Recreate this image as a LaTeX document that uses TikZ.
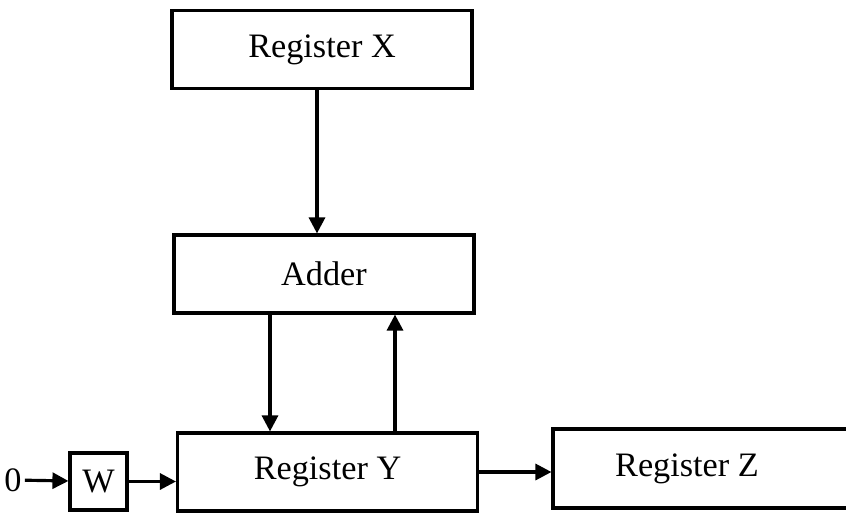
\documentclass[tikz,border=0pt]{standalone}
\usepackage{fontspec}
\setmainfont{Liberation Serif}
\usetikzlibrary{arrows.meta}
\begin{document}
\begin{tikzpicture}[x=.02cm,y=-.02cm,line width=1.8pt,>={Triangle[length=.32cm,width=.32cm]},
	every node/.style={font=\fontsize{19.5}{24}\selectfont},
	reg/.style={draw,minimum width=6cm,minimum height=1.56cm,inner sep=0pt}]
	\useasboundingbox(0,0)rectangle(846,514);
	\clip(0,0)rectangle(846,514);
	\node[reg](X)at(322,49.5){Register X};
	\node[reg](A)at(324,274){Adder};
	\node[reg](Y)at(327.5,472){Register Y};
	\node[reg,minimum width=6.6cm,minimum height=1.58cm](Z)at(718,468.5){\hspace*{-1.24cm}Register Z};
	\node[draw,minimum size=1.14cm,inner sep=0pt](W)at(98.5,481.5){W};
	\node[inner sep=1pt](zero)at(13,480){0};
	\coordinate(dn)at(270,0);
	\coordinate(up)at(395,0);
	\coordinate(xa)at(317,0);
	%data paths
	\draw[->](X.south-|xa)--(A.north-|xa);
	\draw[->](A.south-|dn)--(Y.north-|dn);
	\draw[->](Y.north-|up)--(A.south-|up);
	\draw[->](zero)--(W);
	\draw[->](W)--(W-|Y.west);
	\draw[->](Y.east)--(Y.east-|Z.west);
\end{tikzpicture}
\end{document}
